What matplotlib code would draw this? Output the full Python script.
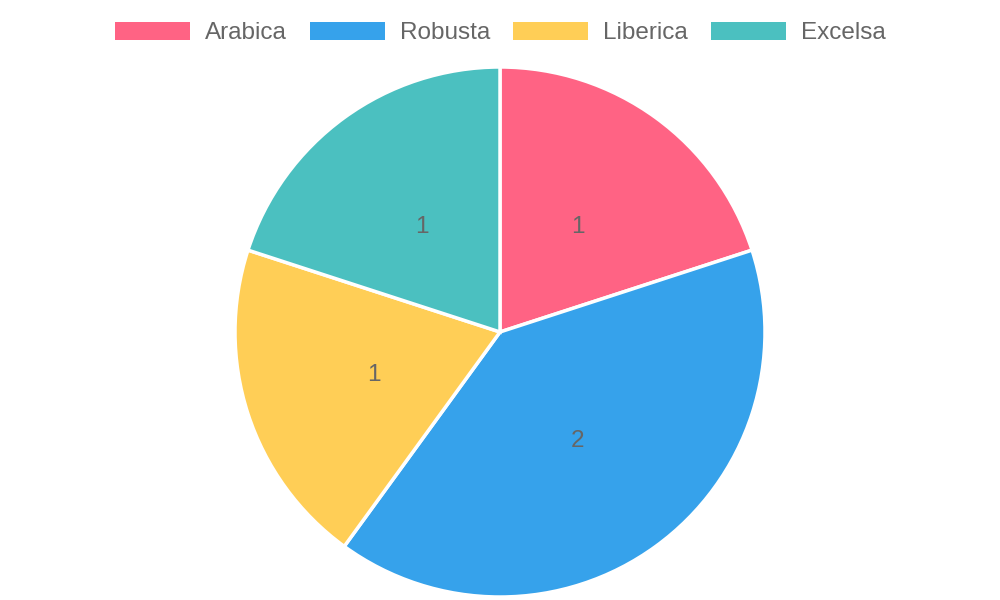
import matplotlib
matplotlib.use("Agg")
import matplotlib.pyplot as plt
from matplotlib.patches import Patch

# Datos
variedades = ["Arabica", "Robusta", "Liberica", "Excelsa"]
valores = [1, 2, 1, 1]
colores = ["#FF6384", "#36A2EB", "#FFCE56", "#4BC0C0"]

plt.rcParams["font.family"] = ["Liberation Sans", "DejaVu Sans"]
gris = "#666666"

fig = plt.figure(figsize=(10, 6), dpi=100)
ax = fig.add_axes([0, 0, 1, 1])

total = sum(valores)
wedges, textos, autotextos = ax.pie(
    valores,
    colors=colores,
    startangle=90,
    counterclock=False,
    center=(500, 268),
    radius=265,
    autopct=lambda p: f"{round(p * total / 100):d}",
    pctdistance=0.5,
    wedgeprops=dict(edgecolor="white", linewidth=2.5),
    textprops=dict(color=gris, fontsize=17.5),
)
# bajar un poco las etiquetas, como en el original
for t in autotextos:
    x, y = t.get_position()
    t.set_position((x, y - 2))

ax.set_xlim(0, 1000)
ax.set_ylim(0, 600)
ax.set_aspect("equal")
ax.axis("off")

handles = [Patch(facecolor=c, edgecolor="none") for c in colores]
fig.legend(
    handles, variedades,
    loc="center", bbox_to_anchor=(0.5, 1 - 33 / 600),
    ncol=4, frameon=False, fontsize=17.5, labelcolor=gris,
    handlelength=3.1, handleheight=0.82, handletextpad=0.6,
    columnspacing=0.95, borderpad=0,
)

fig.savefig("out.png", dpi=100)
